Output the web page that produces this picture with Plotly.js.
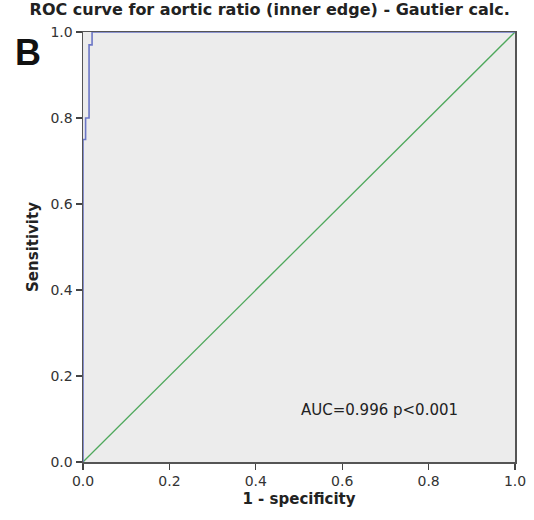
<!DOCTYPE html>
<html>
<head>
<meta charset="utf-8">
<script src="https://cdn.plot.ly/plotly-3.0.1.min.js"></script>
<style>
  html, body { margin: 0; padding: 0; background: #ffffff; }
  #chart { width: 534px; height: 520px; }
</style>
</head>
<body>
<div id="chart"></div>
<script>
// ROC curve points (1 - specificity, sensitivity)
const rocFpr = [0, 0, 0.006, 0.006, 0.014, 0.014, 0.021, 0.021, 1];
const rocTpr = [0, 0.75, 0.75, 0.80, 0.80, 0.97, 0.97, 1.0, 1.0];
// Reference (chance) line
const refX = [0, 1];
const refY = [0, 1];
const tickVals = [0, 0.2, 0.4, 0.6, 0.8, 1.0];
const tickText = ['0.0', '0.2', '0.4', '0.6', '0.8', '1.0'];
const aucLabel = 'AUC=0.996 p<0.001';

const FONT = 'DejaVu Sans, sans-serif';

const traces = [
  {
    x: refX, y: refY, mode: 'lines', type: 'scatter',
    line: { color: '#4fa85c', width: 1.3 }, hoverinfo: 'skip'
  },
  {
    x: rocFpr, y: rocTpr, mode: 'lines', type: 'scatter',
    line: { color: '#6c77c6', width: 1.6 }, hoverinfo: 'skip'
  }
];

const axisCommon = {
  range: [0, 1],
  tickvals: tickVals,
  ticktext: tickText,
  ticks: 'outside',
  ticklen: 6,
  tickwidth: 1.2,
  tickcolor: '#444',
  showgrid: false,
  zeroline: false,
  showline: true,
  linecolor: '#555',
  linewidth: 1.5,
  mirror: true,
  tickfont: { family: FONT, size: 14, color: '#333' }
};

const layout = {
  width: 534,
  height: 520,
  margin: { l: 83, r: 19, t: 32, b: 58 },
  paper_bgcolor: '#ffffff',
  plot_bgcolor: '#ececec',
  showlegend: false,
  title: {
    text: 'ROC curve for aortic ratio (inner edge) - Gautier calc.',
    font: { family: FONT, size: 16, color: '#222', weight: 'bold' },
    x: 0.505, xanchor: 'center', y: 0.992, yanchor: 'top'
  },
  xaxis: Object.assign({}, axisCommon, {
    title: { text: '1 - specificity', font: { family: FONT, size: 15, color: '#222', weight: 'bold' }, standoff: 5 }
  }),
  yaxis: Object.assign({}, axisCommon, {
    title: { text: 'Sensitivity', font: { family: FONT, size: 15, color: '#222', weight: 'bold' }, standoff: 8 }
  }),
  annotations: [
    {
      x: 0.687, y: 0.121, xref: 'x', yref: 'y', text: aucLabel, showarrow: false,
      font: { family: FONT, size: 15, color: '#222' }
    },
    {
      // panel letter, positioned in paper space left of the plot
      xref: 'paper', yref: 'paper',
      x: (13 - 83) / (534 - 83 - 19), xanchor: 'left',
      y: 1 - (30 - 32) / (520 - 32 - 58), yanchor: 'top',
      text: '<b>B</b>', showarrow: false,
      font: { family: 'Liberation Sans, Arial, sans-serif', size: 36, color: '#111' }
    }
  ]
};

Plotly.newPlot('chart', traces, layout, { displayModeBar: false, staticPlot: true });
</script>
</body>
</html>
